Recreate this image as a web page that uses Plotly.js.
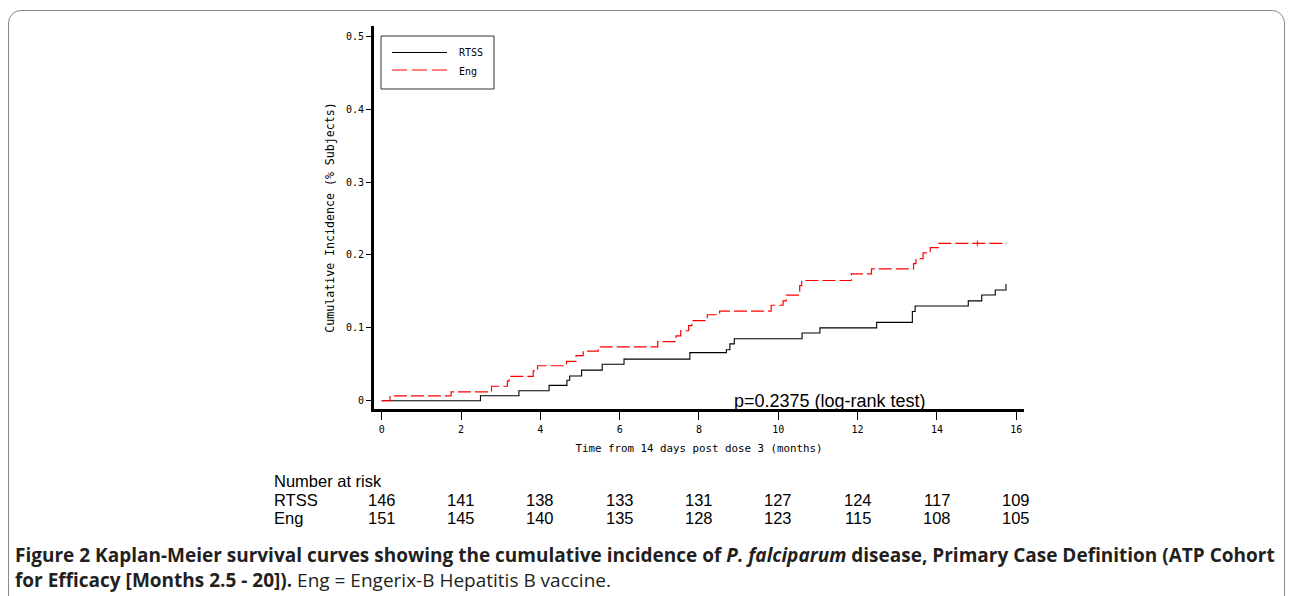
<!DOCTYPE html>
<html>
<head>
<meta charset="utf-8">
<script src="https://cdn.plot.ly/plotly-3.0.1.min.js"></script>
<style>
  html, body { margin:0; padding:0; background:#fff; }
  #wrap { position:relative; width:1292px; height:596px; overflow:hidden; }
  #frame { position:absolute; left:8px; top:10px; width:1277px; height:640px;
           border:1px solid #8a8a8a; border-radius:13px; box-sizing:border-box; }
  #chart { position:absolute; left:0; top:0; width:1292px; height:596px; }
</style>
</head>
<body>
<div id="wrap"><div id="frame"></div><div id="chart"></div></div>
<script>
// ---- data ----
const rtssTime = [0, 2.49, 3.46, 4.22, 4.67, 4.74, 5.04, 5.56, 6.11, 7.77, 8.69, 8.78, 8.89, 10.60, 11.05, 12.48, 13.38, 13.45, 14.79, 15.13, 15.47, 15.74];
const rtssInc  = [0, 0.0068, 0.0137, 0.0210, 0.028, 0.034, 0.042, 0.050, 0.057, 0.066, 0.070, 0.078, 0.085, 0.093, 0.100, 0.1075, 0.1225, 0.130, 0.137, 0.145, 0.152, 0.160];
const engTime  = [0, 0.21, 1.75, 2.77, 3.17, 3.21, 3.82, 3.93, 4.66, 4.90, 5.08, 5.46, 6.96, 7.42, 7.54, 7.74, 7.82, 8.21, 8.52, 9.82, 10.12, 10.20, 10.54, 10.59, 11.84, 12.35, 13.41, 13.47, 13.65, 13.83, 14.04, 15.76];
const engInc   = [0, 0.0066, 0.0120, 0.0198, 0.0270, 0.0334, 0.041, 0.048, 0.054, 0.062, 0.068, 0.074, 0.081, 0.089, 0.096, 0.103, 0.110, 0.118, 0.123, 0.131, 0.137, 0.145, 0.158, 0.165, 0.174, 0.181, 0.188, 0.195, 0.203, 0.210, 0.216, 0.216];
const engCensorTime = [15.02];
const engCensorInc  = [0.216];

const xTickVals = [0, 2, 4, 6, 8, 10, 12, 14, 16];
const yTickVals = [0, 0.1, 0.2, 0.3, 0.4, 0.5];
const yTickText = ['0', '0.1', '0.2', '0.3', '0.4', '0.5'];

const riskTimes = [0, 2, 4, 6, 8, 10, 12, 14, 16];
const rtssRisk  = [146, 141, 138, 133, 131, 127, 124, 117, 109];
const engRisk   = [151, 145, 140, 135, 128, 123, 115, 108, 105];

const seriesNames = ['RTSS', 'Eng'];
const pValueText = 'p=0.2375 (log-rank test)';

// ---- layout geometry (pixels) ----
const W = 1292, H = 596;
const M = {l: 374, r: 268, t: 26, b: 187};
const PW = W - M.l - M.r, PH = H - M.t - M.b;
const X = px => (px - M.l) / PW;          // pixel -> paper x
const Y = py => 1 - (py - M.t) / PH;       // pixel -> paper y

const mono = 'DejaVu Sans Mono';

const traces = [
  {x: rtssTime, y: rtssInc, name: seriesNames[0], type: 'scatter', mode: 'lines',
   line: {shape: 'hv', color: '#000000', width: 1.1}, showlegend: false, hoverinfo: 'skip'},
  {x: engTime, y: engInc, name: seriesNames[1], type: 'scatter', mode: 'lines',
   line: {shape: 'hv', color: '#ff0000', width: 1.2, dash: '13px,4px'}, showlegend: false, hoverinfo: 'skip'},
  {x: engCensorTime, y: engCensorInc, name: seriesNames[1] + ' censored', type: 'scatter', mode: 'markers',
   marker: {symbol: 'line-ns', size: 4, line: {color: '#ff0000', width: 1}}, showlegend: false, hoverinfo: 'skip'}
];

const annotations = [];
// legend texts
annotations.push({xref:'paper', yref:'paper', x:X(457), y:Y(52), xanchor:'left', yanchor:'middle',
  text: seriesNames[0], showarrow:false, font:{family:mono, size:10, color:'#000'}});
annotations.push({xref:'paper', yref:'paper', x:X(457), y:Y(71), xanchor:'left', yanchor:'middle',
  text: seriesNames[1], showarrow:false, font:{family:mono, size:10, color:'#000'}});
// p-value
annotations.push({xref:'x', yref:'paper', x:8.84, y:Y(401), xanchor:'left', yanchor:'middle',
  text: pValueText, showarrow:false, font:{family:'Liberation Sans, Arial', size:18, color:'#000'}});
// number at risk table
const riskFont = {family:'Liberation Sans, Arial', size:16.5, color:'#000'};
const rowY = [481, 500, 518];
annotations.push({xref:'paper', yref:'paper', x:X(273), y:Y(rowY[0]), xanchor:'left', yanchor:'middle',
  text:'Number at risk', showarrow:false, font:riskFont, borderpad:0});
annotations.push({xref:'paper', yref:'paper', x:X(273), y:Y(rowY[1]), xanchor:'left', yanchor:'middle',
  text: seriesNames[0], showarrow:false, font:riskFont, borderpad:0});
annotations.push({xref:'paper', yref:'paper', x:X(273), y:Y(rowY[2]), xanchor:'left', yanchor:'middle',
  text: seriesNames[1], showarrow:false, font:riskFont, borderpad:0});
riskTimes.forEach((t, i) => {
  annotations.push({xref:'x', yref:'paper', x:t, y:Y(rowY[1]), xanchor:'center', yanchor:'middle',
    text: String(rtssRisk[i]), showarrow:false, font:riskFont, borderpad:0});
  annotations.push({xref:'x', yref:'paper', x:t, y:Y(rowY[2]), xanchor:'center', yanchor:'middle',
    text: String(engRisk[i]), showarrow:false, font:riskFont, borderpad:0});
});
// caption
const capFont = {family:'Open Sans', size:19, color:'#231f20'};
annotations.push({xref:'paper', yref:'paper', x:X(13), y:Y(555), xanchor:'left', yanchor:'middle', showarrow:false,
  text:'<b>Figure 2 Kaplan-Meier survival curves showing the cumulative incidence of <i>P. falciparum</i> disease, Primary Case Definition (ATP Cohort</b>',
  font:capFont});
annotations.push({xref:'paper', yref:'paper', x:X(13), y:Y(580), xanchor:'left', yanchor:'middle', showarrow:false,
  text:'<b>for Efficacy [Months 2.5 - 20]).</b> Eng = Engerix-B Hepatitis B vaccine.',
  font:capFont});

const shapes = [
  // legend box
  {type:'rect', xref:'paper', yref:'paper', x0:X(381), x1:X(494), y0:Y(89), y1:Y(36),
   line:{color:'#333', width:1}, fillcolor:'rgba(0,0,0,0)'},
  // legend samples
  {type:'line', xref:'paper', yref:'paper', x0:X(392), x1:X(447), y0:Y(52.5), y1:Y(52.5),
   line:{color:'#000', width:1}},
  {type:'line', xref:'paper', yref:'paper', x0:X(392), x1:X(447), y0:Y(70), y1:Y(70),
   line:{color:'#ff0000', width:1.2, dash:'15px,5px'}}
];

const layout = {
  width: W, height: H,
  margin: M,
  paper_bgcolor: 'rgba(0,0,0,0)',
  plot_bgcolor: 'rgba(0,0,0,0)',
  showlegend: false,
  xaxis: {
    range: [-7.7/39.66, -7.7/39.66 + PW/39.66],
    tickvals: xTickVals, ticktext: xTickVals.map(String),
    ticks: 'outside', ticklen: 8, tickwidth: 1, tickcolor: '#000',
    showline: true, linewidth: 3, linecolor: '#000', mirror: false,
    showgrid: false, zeroline: false,
    tickfont: {family: mono, size: 10, color: '#000'},
    ticklabelstandoff: 1,
    title: {text: 'Time from 14 days post dose 3 (months)', font: {family: mono, size: 10.8, color: '#000'}, standoff: 11},
    automargin: false, fixedrange: true
  },
  yaxis: {
    range: [-8.3/728.6, -8.3/728.6 + PH/728.6],
    tickvals: yTickVals, ticktext: yTickText,
    ticks: 'outside', ticklen: 5, tickwidth: 1, tickcolor: '#000',
    showline: true, linewidth: 3, linecolor: '#000',
    showgrid: false, zeroline: false,
    tickfont: {family: mono, size: 10, color: '#000'},
    ticklabelstandoff: 0,
    title: {text: 'Cumulative Incidence (% Subjects)', font: {family: mono, size: 11.6, color: '#000'}, standoff: 9},
    automargin: false, fixedrange: true
  },
  annotations: annotations,
  shapes: shapes
};

Plotly.newPlot('chart', traces, layout, {staticPlot: true, displayModeBar: false});
</script>
</body>
</html>
